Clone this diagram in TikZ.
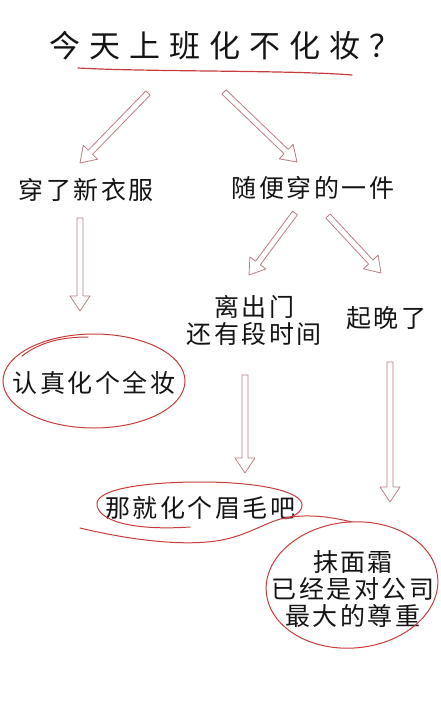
\documentclass[tikz,border=0pt]{standalone}
\usepackage{fontspec}
\usetikzlibrary{calc}
\newfontfamily\cjkbody{Noto Sans CJK SC}[LetterSpace=10]
\newfontfamily\cjktitle{Noto Sans CJK SC}[LetterSpace=29]
\definecolor{inkred}{RGB}{200,60,60}
\definecolor{arrowc}{RGB}{185,125,130}
\definecolor{ink}{RGB}{20,20,20}
\newcommand\harrow[2]{%
  \coordinate (#1-b) at ($(#2)!15pt!(#1)$);
  \draw[hollowarrow] ($(#1)!3pt!90:(#2)$) -- ($(#1-b)!3pt!-90:(#1)$) -- ($(#1-b)!10pt!-90:(#1)$) -- (#2) -- ($(#1-b)!10pt!90:(#1)$) -- ($(#1-b)!3pt!90:(#1)$) -- ($(#1)!3pt!-90:(#2)$) -- cycle;}
\tikzset{
  hollowarrow/.style={draw=arrowc, line width=0.8pt, line join=round, fill=white},
  redline/.style={draw=inkred, line width=1pt, line cap=round},
  txt/.style={font={\cjkbody\fontsize{25}{27}\selectfont}, text=ink, inner sep=0pt, align=center},
  ttl/.style={font={\cjktitle\fontsize{31}{34}\selectfont}, text=ink, inner sep=0pt}
}
\begin{document}
\begin{tikzpicture}[x=1pt,y=1pt]
\fill[white] (0,0) rectangle (440,-722);
\useasboundingbox (0,0) rectangle (440,-722);

% texts
\node[ttl] (title) at (225,-46) {今天上班化不化妆？};
\node[txt] (n1) at (86,-190) {穿了新衣服};
\node[txt] (n2) at (313,-188) {随便穿的一件};
\node[txt] (n3) at (254,-320) {离出门\\还有段时间};
\node[txt] (n4) at (386,-318) {起晚了};
\node[txt] (n5) at (94,-383) {认真化个全妆};
\node[txt] (n6) at (200,-508) {那就化个眉毛吧};
\node[txt] (n7) at (353,-589) {抹面霜\\已经是对公司\\最大的尊重};

% underline
\draw[redline, line width=1.2pt] (78,-68) .. controls (150,-72) and (290,-70) .. (352,-75);

% arrow end points
\coordinate (a1s) at (148,-93);  \coordinate (a1e) at (80,-163);
\coordinate (a2s) at (224,-92);  \coordinate (a2e) at (297,-162);
\coordinate (a3s) at (80,-218);  \coordinate (a3e) at (80,-311);
\coordinate (a4s) at (295,-213); \coordinate (a4e) at (249,-275);
\coordinate (a5s) at (328,-216); \coordinate (a5e) at (381,-273);
\coordinate (a6s) at (245,-375); \coordinate (a6e) at (245,-473);
\coordinate (a7s) at (390,-362); \coordinate (a7e) at (390,-502);
\harrow{a1s}{a1e}
\harrow{a2s}{a2e}
\harrow{a3s}{a3e}
\harrow{a4s}{a4e}
\harrow{a5s}{a5e}
\harrow{a6s}{a6e}
\harrow{a7s}{a7e}

% ellipse around n5
\draw[redline] (94,-381) ellipse [x radius=91, y radius=47];
\draw[redline] (22,-356) .. controls (40,-342) and (62,-337) .. (88,-337);

% loop around n6
\draw[redline] (190,-527) .. controls (130,-531) and (96,-520) .. (97,-503)
  .. controls (99,-488) and (150,-482) .. (200,-482)
  .. controls (262,-482) and (302,-492) .. (302,-505)
  .. controls (302,-513) and (292,-517) .. (285,-519);
\draw[redline] (80,-528) .. controls (130,-540) and (185,-547) .. (222,-540)
  .. controls (252,-534) and (268,-520) .. (290,-517)
  .. controls (315,-514) and (335,-518) .. (352,-522);

% ellipse around n7
\draw[redline, rotate around={5:(352,-585)}] (352,-585) ellipse [x radius=86, y radius=63];
\end{tikzpicture}
\end{document}
